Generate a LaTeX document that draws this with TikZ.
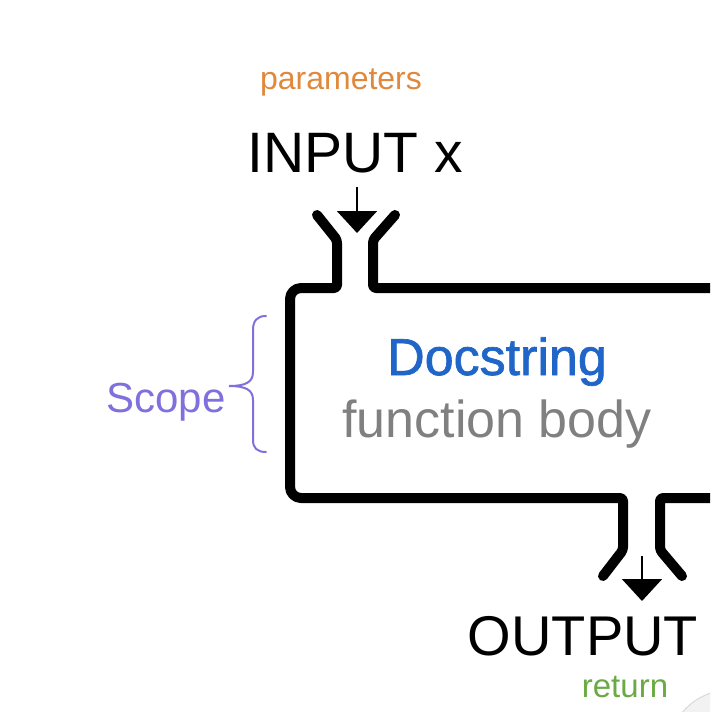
\documentclass[tikz,border=0pt]{standalone}
\usepackage{fontspec}
\setmainfont{Liberation Sans}
\usetikzlibrary{arrows.meta}
\definecolor{paramcol}{HTML}{E0883C}
\definecolor{doccol}{HTML}{1F66C8}
\definecolor{bodycol}{HTML}{808080}
\definecolor{scopecol}{HTML}{8070DD}
\definecolor{retcol}{HTML}{6AAA45}
\tikzset{
  wall/.style={line width=10pt, line cap=round, line join=round, rounded corners=3pt},
  flowarrow/.style={line width=2pt, -{Triangle[width=40pt,length=22pt]}},
  lbl/.style={inner sep=0pt, anchor=base},
}
\newcommand{\fsz}[1]{\fontsize{#1}{#1}\selectfont}
\begin{document}
\begin{tikzpicture}[x=1pt,y=-1pt]
\useasboundingbox (0,0) rectangle (710,712);
\clip (0,0) rectangle (710,712);
\fill[white] (0,0) rectangle (710,712);

% corner blob
\filldraw[fill=gray!10, draw=gray!30, line width=1pt] (730,752) circle[radius=62];

% labels
\node[lbl, text=paramcol] (param) at (341,89) {\fsz{32}parameters};
\node[lbl] (input) at (355,172) {\fsz{57}INPUT x};
\node[lbl, text=doccol] (doc) at (497,375) {\fsz{52}\addfontfeature{FakeBold=1.3}Docstring};
\node[lbl, text=bodycol] (body) at (497,437) {\fsz{52}function body};
\node[lbl, text=scopecol] (scope) at (166,412) {\fsz{42}Scope};
\node[lbl] (output) at (583,655) {\fsz{56}OUTPUT};
\node[lbl, text=retcol] (ret) at (625,697) {\fsz{33}return};

% walls of function box
\draw[wall] (317,215) -- (337,240) -- (337,288) [rounded corners=11pt] -- (290,288) -- (290,498) [rounded corners=3pt] -- (623,498) -- (623,550) -- (603,576);
\draw[wall] (395,215) -- (373,240) -- (373,288) -- (730,288);
\draw[wall] (730,498) -- (660,498) -- (660,550) -- (682,576);

% arrows
\coordinate (inA) at (357,187);
\coordinate (inB) at (357,233);
\coordinate (outA) at (642,556);
\coordinate (outB) at (642,601);
\draw[flowarrow] (inA) -- (inB);
\draw[flowarrow] (outA) -- (outB);

% scope brace
\coordinate (brTop) at (266,316);
\coordinate (brBot) at (266,452);
\coordinate (brTip) at (229,386);
\draw[scopecol, line width=2pt, line cap=round]
  (brTop) .. controls (257,316) and (253,321) .. (253,330) -- (253,372)
  .. controls (253,382) and (246,386) .. (brTip)
  .. controls (246,386) and (253,390) .. (253,400) -- (253,440)
  .. controls (253,448) and (257,452) .. (brBot);
\end{tikzpicture}
\end{document}
